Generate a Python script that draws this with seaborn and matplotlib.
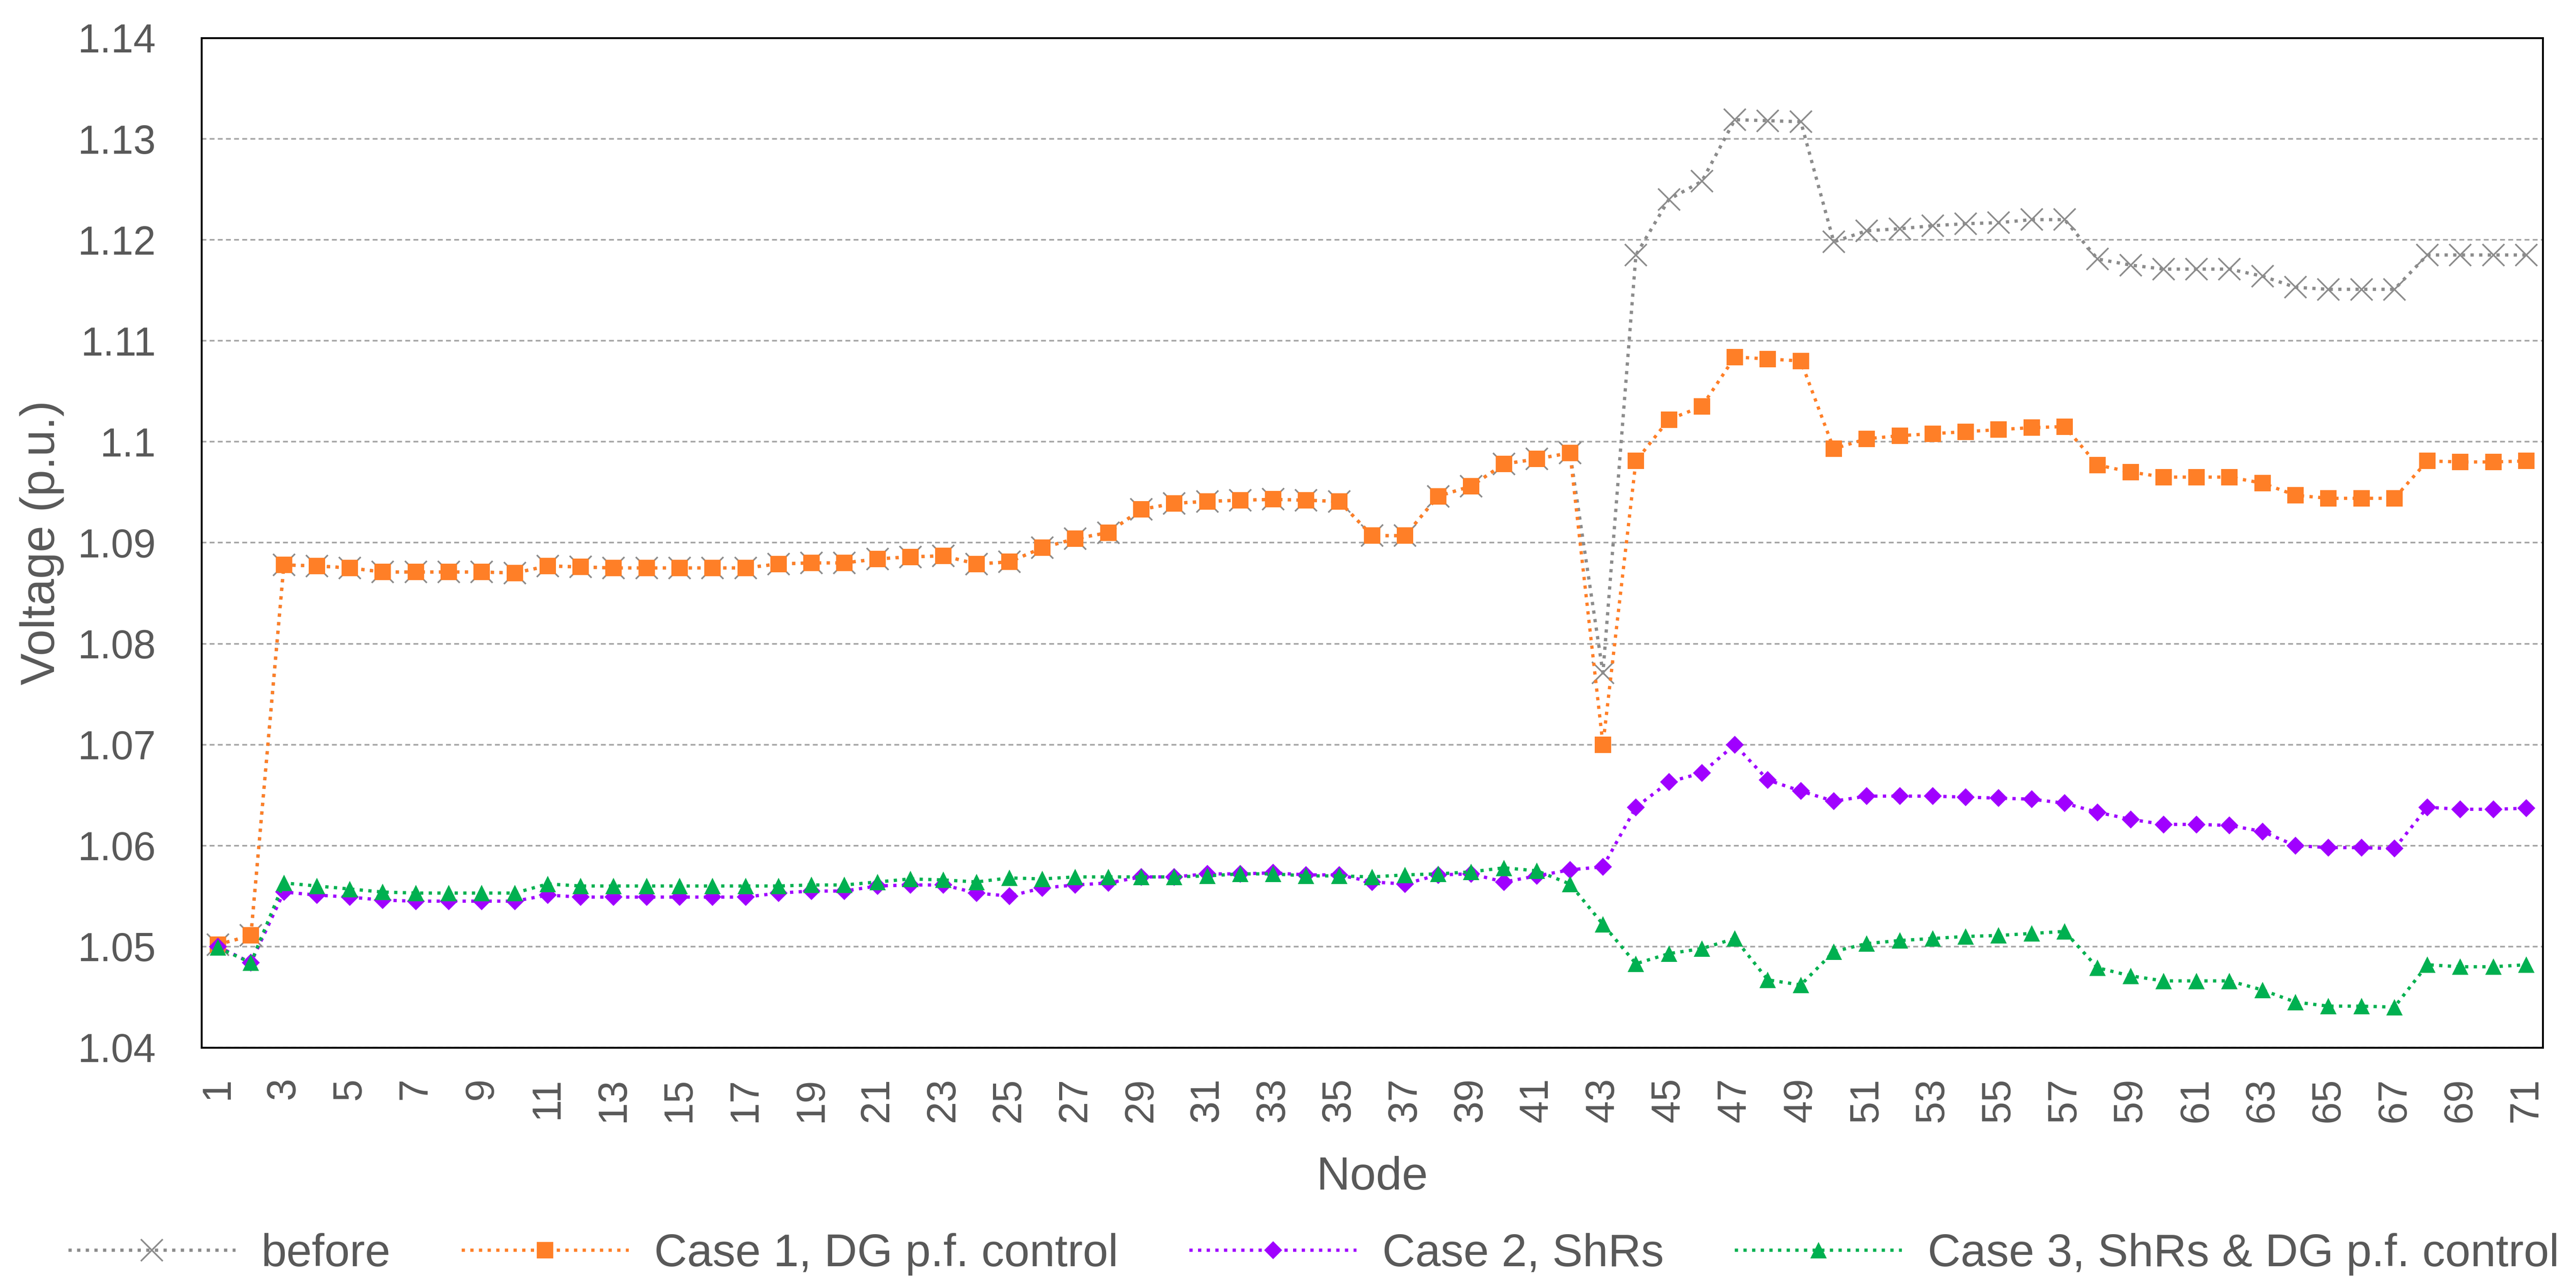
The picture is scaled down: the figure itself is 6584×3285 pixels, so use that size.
import matplotlib
matplotlib.use("Agg")
import matplotlib.pyplot as plt
from matplotlib.ticker import FuncFormatter
import numpy as np
import pandas as pd
import seaborn as sns

nodes = list(range(1, 72))

before = [1.0502, 1.0511, 1.0878, 1.0877, 1.0875, 1.0871, 1.0871, 1.0871, 1.0871, 1.0870,
          1.0877, 1.0876, 1.0875, 1.0875, 1.0875, 1.0875, 1.0875, 1.0879, 1.0880, 1.0880,
          1.0884, 1.0886, 1.0887, 1.0879, 1.0881, 1.0895, 1.0904, 1.0910, 1.0933, 1.0939,
          1.0941, 1.0942, 1.0943, 1.0942, 1.0941, 1.0907, 1.0907, 1.0946, 1.0956, 1.0978,
          1.0983, 1.0989, 1.0771, 1.1185, 1.1240, 1.1258, 1.1319, 1.1318, 1.1317, 1.1198,
          1.1209, 1.1211, 1.1214, 1.1216, 1.1217, 1.1220, 1.1220, 1.1181, 1.1175, 1.1171,
          1.1171, 1.1171, 1.1164, 1.1153, 1.1151, 1.1151, 1.1151, 1.1185, 1.1185, 1.1185,
          1.1185]

case1 = [1.0502, 1.0511, 1.0878, 1.0877, 1.0875, 1.0871, 1.0871, 1.0871, 1.0871, 1.0870,
         1.0877, 1.0876, 1.0875, 1.0875, 1.0875, 1.0875, 1.0875, 1.0879, 1.0880, 1.0880,
         1.0884, 1.0886, 1.0887, 1.0879, 1.0881, 1.0895, 1.0904, 1.0910, 1.0933, 1.0939,
         1.0941, 1.0942, 1.0943, 1.0942, 1.0941, 1.0907, 1.0907, 1.0946, 1.0956, 1.0978,
         1.0983, 1.0989, 1.0700, 1.0981, 1.1022, 1.1035, 1.1084, 1.1082, 1.1080, 1.0993,
         1.1003, 1.1006, 1.1008, 1.1010, 1.1012, 1.1014, 1.1015, 1.0977, 1.0970, 1.0965,
         1.0965, 1.0965, 1.0959, 1.0947, 1.0944, 1.0944, 1.0944, 1.0981, 1.0980, 1.0980,
         1.0981]

case2 = [1.0500, 1.0484, 1.0554, 1.0551, 1.0549, 1.0546, 1.0545, 1.0545, 1.0545, 1.0545,
         1.0551, 1.0549, 1.0549, 1.0549, 1.0549, 1.0549, 1.0549, 1.0553, 1.0555, 1.0555,
         1.0560, 1.0561, 1.0561, 1.0553, 1.0550, 1.0558, 1.0561, 1.0563, 1.0569, 1.0569,
         1.0572, 1.0572, 1.0573, 1.0571, 1.0571, 1.0564, 1.0562, 1.0571, 1.0572, 1.0564,
         1.0570, 1.0576, 1.0579, 1.0638, 1.0663, 1.0672, 1.0700, 1.0665, 1.0654, 1.0644,
         1.0649, 1.0649, 1.0649, 1.0648, 1.0647, 1.0646, 1.0642, 1.0633, 1.0626, 1.0621,
         1.0621, 1.0620, 1.0614, 1.0600, 1.0598, 1.0598, 1.0597, 1.0638, 1.0636, 1.0636,
         1.0637]

case3 = [1.0499, 1.0484, 1.0563, 1.0560, 1.0557, 1.0554, 1.0553, 1.0553, 1.0553, 1.0553,
         1.0562, 1.0560, 1.0560, 1.0560, 1.0560, 1.0560, 1.0560, 1.0560, 1.0561, 1.0561,
         1.0564, 1.0567, 1.0566, 1.0564, 1.0568, 1.0567, 1.0569, 1.0569, 1.0569, 1.0569,
         1.0570, 1.0572, 1.0572, 1.0570, 1.0570, 1.0569, 1.0571, 1.0572, 1.0574, 1.0578,
         1.0575, 1.0562, 1.0522, 1.0483, 1.0493, 1.0498, 1.0508, 1.0467, 1.0462, 1.0495,
         1.0503, 1.0506, 1.0508, 1.0510, 1.0511, 1.0513, 1.0515, 1.0479, 1.0471, 1.0466,
         1.0466, 1.0466, 1.0457, 1.0445, 1.0441, 1.0441, 1.0440, 1.0482, 1.0480, 1.0480,
         1.0482]

labels = ["before", "Case 1, DG p.f. control", "Case 2, ShRs",
          "Case 3, ShRs & DG p.f. control"]
series = [before, case1, case2, case3]
colors = ["#8c8c8c", "#ff7f27", "#a000ff", "#00b050"]
markers = ["x", "s", "D", "^"]
msizes = [40, 30, 23, 30]

y_ticks = [1.04, 1.05, 1.06, 1.07, 1.08, 1.09, 1.10, 1.11, 1.12, 1.13, 1.14]

sns.set_style("white")
plt.rcParams["font.family"] = ["Liberation Sans", "DejaVu Sans"]
txt = "#595959"

fig = plt.figure(figsize=(65.84, 32.85), dpi=100)
ax = fig.add_axes([0.0782, 0.1848, 0.9089, 0.7857])

for lab, vals, c, m, ms in zip(labels, series, colors, markers, msizes):
    df = pd.DataFrame({"Node": nodes, "Voltage": vals})
    sns.lineplot(data=df, x="Node", y="Voltage", ax=ax, color=c, label=lab,
                 linestyle=":", linewidth=6, marker=m, markersize=ms,
                 markeredgewidth=3 if m == "x" else 0, markeredgecolor=c)

ax.set_xlim(0.5, 71.5)
ax.set_ylim(1.04, 1.14)
ax.set_yticks(y_ticks)
ax.yaxis.set_major_formatter(FuncFormatter(lambda v, p: f"{v:g}"))
ax.set_xticks(nodes[::2])
ax.set_xticklabels([str(n) for n in nodes[::2]], rotation=90)
ax.grid(axis="y", color="#a6a6a6", linestyle=(0, (3, 2)), linewidth=3)
ax.set_axisbelow(True)
for s in ax.spines.values():
    s.set_visible(True)
    s.set_color("black")
    s.set_linewidth(3.5)
ax.tick_params(axis="both", length=0, labelsize=74, colors=txt)
ax.tick_params(axis="y", pad=84)
ax.tick_params(axis="x", pad=55)

ax.set_xlabel("Node", fontsize=86, color=txt, va="center")
ax.set_ylabel("Voltage (p.u.)", fontsize=88, color=txt, va="center")
ax.xaxis.set_label_coords(0.5, -0.129)
ax.yaxis.set_label_coords(-0.0682, 0.5)

ax.get_legend().remove()
h, l = ax.get_legend_handles_labels()
fig.legend(h, l, loc="center", bbox_to_anchor=(0.51, 0.024), ncol=4,
           frameon=False, fontsize=84, handlelength=3.66, handletextpad=0.56,
           columnspacing=1.56, labelcolor=txt, numpoints=1)

fig.savefig("out.png", dpi=100)
